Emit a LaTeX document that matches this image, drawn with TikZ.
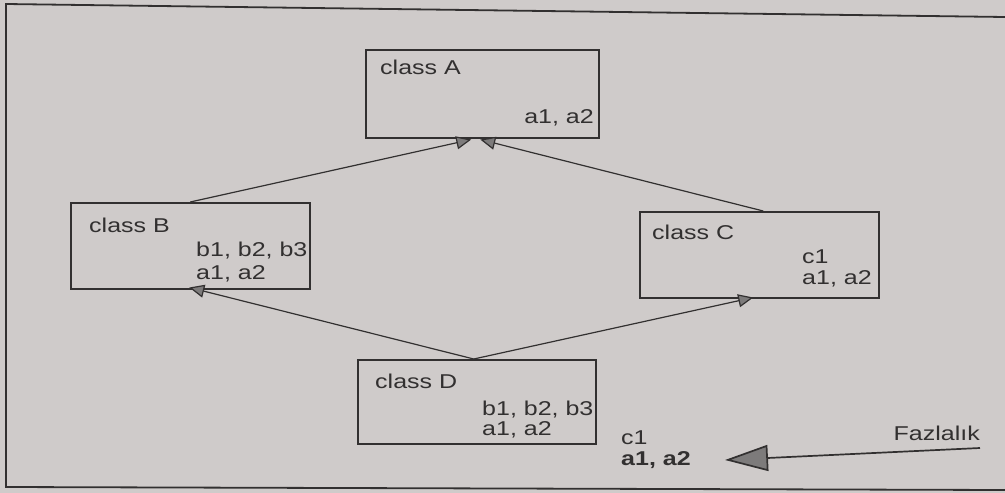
\documentclass[tikz,border=0pt]{standalone}
\usepackage{fontspec}
\setmainfont{Liberation Sans}[FakeStretch=1.25]
\usetikzlibrary{arrows.meta}
\definecolor{paper}{RGB}{207,203,202}
\definecolor{ink}{RGB}{50,48,48}
\definecolor{headfill}{RGB}{125,123,123}
\tikzset{
  classbox/.style={draw=ink, line width=1.5pt, anchor=north west, inner sep=0pt},
  txt/.style={text=ink, inner sep=0pt, anchor=base west, font=\fontsize{20}{22}\selectfont},
  txtr/.style={txt, anchor=base east},
  inherit/.style={draw=ink, line width=1.2pt,
    -{Triangle[length=15pt,width=13pt,fill=headfill]}},
  pointer/.style={draw=ink, line width=1.7pt,
    -{Triangle[length=43pt,width=26pt,fill=headfill]}}
}
\begin{document}
\begin{tikzpicture}[x=1pt,y=-1pt]
  \useasboundingbox (0,0) rectangle (1005,493);
  \fill[paper] (0,0) rectangle (1005,493);
  % page frame, slightly skewed
  \draw[ink, line width=1.8pt] (1005,17) -- (6,4) -- (6,487) -- (1005,490);

  % class boxes
  \node[classbox, minimum width=233pt, minimum height=88pt] (A) at (365,49) {};
  \node[classbox, minimum width=239pt, minimum height=86pt] (B) at (70,202) {};
  \node[classbox, minimum width=239pt, minimum height=86pt] (C) at (639,211) {};
  \node[classbox, minimum width=238pt, minimum height=84pt] (D) at (357,359) {};

  % class A
  \node[txt]  (An) at (380,74)  {class A};
  \node[txtr] (Aa) at (594,123) {a1, a2};
  % class B
  \node[txt] (Bn)  at (89,232)  {class B};
  \node[txt] (Bb)  at (196,256) {b1, b2, b3};
  \node[txt] (Ba)  at (196,279) {a1, a2};
  % class C
  \node[txt] (Cn)  at (652,239) {class C};
  \node[txt] (Cc)  at (802,263) {c1};
  \node[txt] (Ca)  at (802,284) {a1, a2};
  % class D
  \node[txt] (Dn)  at (375,388) {class D};
  \node[txt] (Db)  at (482,415) {b1, b2, b3};
  \node[txt] (Da)  at (482,435) {a1, a2};

  % duplicated members
  \node[txt] (Xc) at (621,444) {c1};
  \node[txt, font=\fontsize{20}{22}\selectfont\bfseries] (Xa) at (621,465) {a1, a2};
  \node[txtr] (F) at (980,440) {Fazlalık};
  \coordinate (Fs) at (980,448);
  \coordinate (Ft) at (725,460);

  % inheritance connectors
  \draw[inherit] (B.north) -- ([xshift=-11pt,yshift=-1pt]A.south);
  \draw[inherit] ([xshift=4pt]C.north) -- ([xshift=-2pt,yshift=-1pt]A.south);
  \draw[inherit] ([xshift=-3pt]D.north) -- ([xshift=-1pt,yshift=2pt]B.south);
  \draw[inherit] ([xshift=-3pt]D.north) -- ([xshift=-6pt,yshift=1pt]C.south);

  \draw[pointer] (Fs) -- (Ft);
\end{tikzpicture}
\end{document}
